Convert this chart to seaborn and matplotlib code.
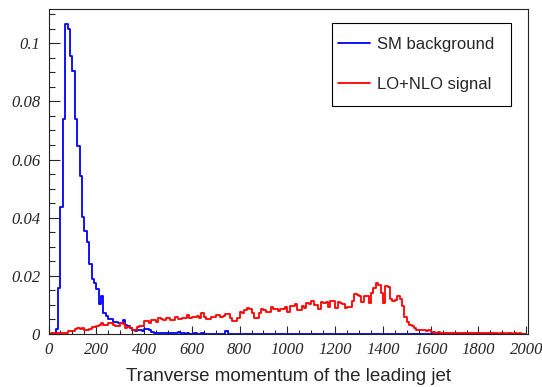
import numpy as np
import pandas as pd
import matplotlib
matplotlib.use('Agg')
import matplotlib.pyplot as plt
import seaborn as sns
from matplotlib.patches import Rectangle
from matplotlib.ticker import MultipleLocator

# 10 GeV bins from 0 to 2000 GeV, normalised histograms
sm_background = [
    0, 0, 0, 0.0018, 0.0158, 0.0435, 0.0740, 0.1065, 0.1050, 0.0955,
    0.0905, 0.0741, 0.0648, 0.0544, 0.0402, 0.0355, 0.0316, 0.0240, 0.0190, 0.0176,
    0.0154, 0.0103, 0.0132, 0.0071, 0.0062, 0.0052, 0.0050, 0.0041, 0.0040, 0.0037,
    0.0038, 0.0048, 0.0030, 0.0028, 0.0022, 0.0012, 0.0010, 0.0015, 0.0014, 0.0010,
    0.0018, 0.0017, 0.0012, 0.0006, 0.0005, 0.0004, 0.0003, 0.0002, 0.0003, 0.0002,
    0.0002, 0.0003, 0.0002, 0.0002, 0.0008, 0.0003, 0.0002, 0.0001, 0.0002, 0.0001,
    0.0001, 0.0005, 0.0001, 0.0001, 0.0002, 0.0001, 0, 0.0001, 0, 0.0001,
    0, 0, 0.0001, 0, 0.0009, 0, 0, 0, 0, 0,
] + [0] * 120

lo_nlo_signal = [
    0.0000, 0.0002, 0.0002, 0.0003, 0.0003, 0.0004, 0.0005, 0.0004, 0.0009, 0.0010,
    0.0011, 0.0018, 0.0019, 0.0017, 0.0019, 0.0013, 0.0012, 0.0016, 0.0025, 0.0024,
    0.0029, 0.0031, 0.0039, 0.0030, 0.0031, 0.0039, 0.0038, 0.0030, 0.0029, 0.0027,
    0.0037, 0.0036, 0.0020, 0.0023, 0.0022, 0.0014, 0.0015, 0.0023, 0.0027, 0.0026,
    0.0045, 0.0044, 0.0039, 0.0048, 0.0047, 0.0041, 0.0054, 0.0053, 0.0048, 0.0054,
    0.0055, 0.0048, 0.0049, 0.0060, 0.0050, 0.0051, 0.0056, 0.0055, 0.0064, 0.0056,
    0.0057, 0.0060, 0.0061, 0.0056, 0.0073, 0.0060, 0.0051, 0.0052, 0.0058, 0.0057,
    0.0066, 0.0064, 0.0060, 0.0062, 0.0068, 0.0069, 0.0054, 0.0043, 0.0045, 0.0055,
    0.0074, 0.0073, 0.0082, 0.0088, 0.0087, 0.0071, 0.0054, 0.0056, 0.0071, 0.0085,
    0.0084, 0.0074, 0.0075, 0.0094, 0.0085, 0.0086, 0.0080, 0.0085, 0.0086, 0.0094,
    0.0074, 0.0096, 0.0095, 0.0103, 0.0082, 0.0083, 0.0096, 0.0088, 0.0105, 0.0104,
    0.0114, 0.0099, 0.0100, 0.0085, 0.0109, 0.0108, 0.0110, 0.0092, 0.0113, 0.0112,
    0.0088, 0.0109, 0.0108, 0.0103, 0.0090, 0.0094, 0.0093, 0.0115, 0.0136, 0.0135,
    0.0130, 0.0111, 0.0130, 0.0129, 0.0105, 0.0140, 0.0157, 0.0176, 0.0170, 0.0140,
    0.0108, 0.0165, 0.0163, 0.0119, 0.0115, 0.0116, 0.0130, 0.0119, 0.0095, 0.0060,
    0.0040, 0.0030, 0.0029, 0.0022, 0.0014, 0.0015, 0.0012, 0.0013, 0.0011, 0.0012,
    0.0006, 0.0006, 0.0005, 0.0006, 0.0004, 0.0005, 0.0004, 0.0003, 0.0005, 0.0004,
    0.0003, 0.0004, 0.0003, 0.0002, 0.0004, 0.0003, 0.0002, 0.0003, 0.0004, 0.0002,
    0.0003, 0.0002, 0.0003, 0.0002, 0.0002, 0.0003, 0.0002, 0.0002, 0.0001, 0.0003,
    0.0002, 0.0001, 0.0002, 0.0002, 0.0001, 0.0002, 0.0001, 0.0002, 0.0001, 0.0001,
]

x_ticks = [0, 200, 400, 600, 800, 1000, 1200, 1400, 1600, 1800, 2000]
x_tick_labels = ['0', '200', '400', '600', '800', '1000', '1200', '1400', '1600', '1800', '2000']
y_ticks = [0, 0.02, 0.04, 0.06, 0.08, 0.1]
y_tick_labels = ['0', '0.02', '0.04', '0.06', '0.08', '0.1']
series_labels = ['SM background', 'LO+NLO signal']

bin_width = 10
centers = np.arange(len(sm_background)) * bin_width + bin_width / 2
df = pd.DataFrame({'pt': centers, 'bkg': sm_background, 'sig': lo_nlo_signal})

sns.set_style('ticks')
plt.rcParams['font.family'] = ['Liberation Sans', 'DejaVu Sans']

fig = plt.figure(figsize=(5.42, 3.87), dpi=100)
ax = fig.add_axes([0.0895, 0.137, 0.8841, 0.8385])

sns.histplot(data=df, x='pt', weights='bkg', binwidth=bin_width, binrange=(0, 2000),
             element='step', fill=False, color='#0000ff', lw=1.3,
             label=series_labels[0], ax=ax)
sns.histplot(data=df, x='pt', weights='sig', binwidth=bin_width, binrange=(0, 2000),
             element='step', fill=False, color='#ff0000', lw=1.3,
             label=series_labels[1], ax=ax)

ax.set_xlim(0, 2006)
ax.set_ylim(0, 0.1116)

ax.set_xticks(x_ticks)
ax.set_xticklabels(x_tick_labels)
ax.set_yticks(y_ticks)
ax.set_yticklabels(y_tick_labels)
ax.xaxis.set_minor_locator(MultipleLocator(50))
ax.yaxis.set_minor_locator(MultipleLocator(0.005))
ax.tick_params(axis='x', which='major', direction='in', length=6, width=0.8, pad=6)
ax.tick_params(axis='x', which='minor', direction='in', length=3, width=0.8)
ax.tick_params(axis='y', which='major', direction='in', length=8, width=0.8, pad=6)
ax.tick_params(axis='y', which='minor', direction='in', length=4, width=0.8)
for lab in ax.get_xticklabels() + ax.get_yticklabels():
    lab.set_fontfamily('Liberation Serif')
    lab.set_fontstyle('italic')
    lab.set_fontsize(12)

for sp in ax.spines.values():
    sp.set_linewidth(0.8)
    sp.set_color('#222222')

ax.set_ylabel('')
ax.set_xlabel('Tranverse momentum of the leading jet', fontsize=13.5, labelpad=7)

# legend (ROOT-like box)
ax.legend(loc='upper left', bbox_to_anchor=(0.6088, 0.9266), bbox_transform=fig.transFigure,
          frameon=False, fontsize=12, borderpad=0, handlelength=1.92, handletextpad=0.4,
          labelspacing=1.5)
ax.add_patch(Rectangle((0.612, 0.7261), 0.3308, 0.2145, transform=fig.transFigure,
                       fill=False, edgecolor='black', linewidth=0.8, clip_on=False))

fig.savefig('out.png', dpi=100)
